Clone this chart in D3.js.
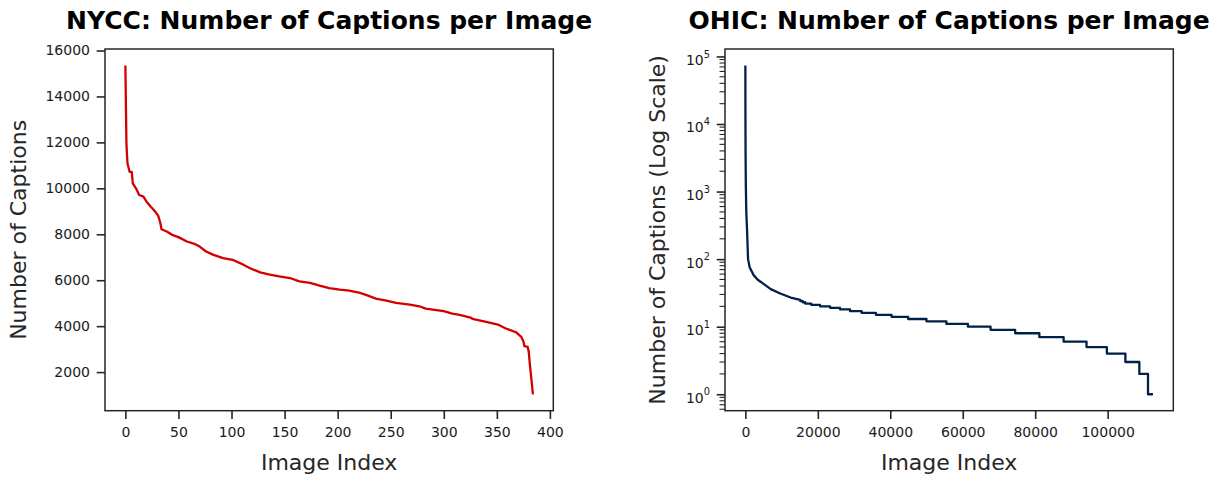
<!DOCTYPE html>
<html>
<head>
<meta charset="utf-8">
<script src="https://cdn.jsdelivr.net/npm/d3@7"></script>
<style>
  body { margin: 0; background: #fff; }
  svg text { font-family: "DejaVu Sans", sans-serif; fill: #262626; }
</style>
</head>
<body>
<div id="chart"></div>
<script>
// NYCC: captions per image, sorted descending (image index, caption count)
const nyccIndex = [0, 1, 2, 4, 6, 7, 10, 13, 17, 20, 24, 28, 31, 33, 34, 39, 44, 50, 58, 65,
  70, 76, 83, 92, 101, 108, 117, 127, 136, 145, 155, 164, 174, 183, 192, 202, 211, 221, 228, 236,
  246, 255, 268, 277, 283, 300, 308, 315, 326, 327, 340, 351, 358, 368, 373, 375, 376, 379, 380, 381, 384];
const nyccCount = [15350, 11900, 11080, 10720, 10720, 10220, 10000, 9710, 9640, 9420, 9200, 8990, 8800, 8480, 8220, 8120, 7975, 7875, 7685, 7585,
  7465, 7250, 7105, 6965, 6890, 6745, 6530, 6340, 6240, 6165, 6095, 5950, 5880, 5760, 5660, 5590, 5545, 5445, 5340, 5200,
  5110, 5010, 4940, 4865, 4765, 4650, 4545, 4490, 4360, 4315, 4185, 4070, 3910, 3735, 3535, 3345, 3130, 3100, 2910, 2400, 1035];

// OHIC: smooth head of the curve (image index, caption count)
const ohicHeadIndex = [0, 15, 50, 120, 250, 470, 740, 1200, 2280, 3500, 5030, 7000, 9630, 12500, 15130];
const ohicHeadCount = [73600, 15000, 4000, 1300, 500, 263, 100, 75, 58, 49, 43, 36, 31, 27, 25];
// OHIC: integer-count tail, each run starts at an index and holds one count
const ohicRunStart = [15130, 15800, 16500, 18200, 20630, 23380, 26130, 28890, 32100, 36040, 40350, 44930,
  49990, 55490, 61430, 67680, 74470, 81150, 87850, 94170, 99780, 104900, 108750, 111140];
const ohicRunCount = [24, 23, 22, 21, 20, 19, 18, 17, 16, 15, 14, 13, 12, 11, 10, 9, 8, 7, 6, 5, 4, 3, 2, 1];
const ohicLastIndex = 112500;

const nyccXTicks = [0, 50, 100, 150, 200, 250, 300, 350, 400];
const nyccYTicks = [2000, 4000, 6000, 8000, 10000, 12000, 14000, 16000];
const ohicXTicks = [0, 20000, 40000, 60000, 80000, 100000];
const ohicYTicks = [1, 10, 100, 1000, 10000, 100000];

const titles = ['NYCC: Number of Captions per Image', 'OHIC: Number of Captions per Image'];
const yLabels = ['Number of Captions', 'Number of Captions (Log Scale)'];
const xLabel = 'Image Index';

const INK = '#262626';
const TOP = 49, BOTTOM = 410.7;

const svg = d3.select('#chart').append('svg')
  .attr('width', 1220)
  .attr('height', 483);

// matplotlib-style 5% margins
function padded([lo, hi], f = 0.05) {
  const d = (hi - lo) * f;
  return [lo - d, hi + d];
}

function styleAxis(g) {
  g.select('.domain').remove();
  g.attr('font-family', 'DejaVu Sans').attr('font-size', 14);
  g.selectAll('.tick line').attr('stroke', INK).attr('stroke-width', 1.6);
  g.selectAll('.tick text').style('fill', '#1a1a1a');
}

function drawPanel({ x, y, left, right, points, color, xTicks, yAxis, title, yLabel, yLabelX }) {
  const g = svg.append('g');

  g.append('g')
    .attr('transform', `translate(0,${BOTTOM})`)
    .call(d3.axisBottom(x).tickValues(xTicks).tickSize(8.3).tickPadding(8.4).tickFormat(d3.format('d')))
    .call(styleAxis);

  const yg = g.append('g')
    .attr('transform', `translate(${left},0)`)
    .call(yAxis)
    .call(styleAxis);

  const line = d3.line()
    .x(d => x(d[0]))
    .y(d => y(d[1]));

  g.append('path')
    .datum(points)
    .attr('fill', 'none')
    .attr('stroke', color)
    .attr('stroke-width', 2.3)
    .attr('stroke-linejoin', 'round')
    .attr('d', line);

  g.append('rect')
    .attr('x', left)
    .attr('y', TOP)
    .attr('width', right - left)
    .attr('height', BOTTOM - TOP)
    .attr('fill', 'none')
    .attr('stroke', INK)
    .attr('stroke-width', 1.5);

  const cx = (left + right) / 2;
  g.append('text')
    .attr('x', cx)
    .attr('y', 29)
    .attr('text-anchor', 'middle')
    .attr('font-size', 25)
    .attr('font-weight', 'bold')
    .style('fill', '#000')
    .text(title);

  g.append('text')
    .attr('x', cx)
    .attr('y', 470)
    .attr('text-anchor', 'middle')
    .attr('font-size', 22)
    .text(xLabel);

  g.append('text')
    .attr('transform', `translate(${yLabelX},${(TOP + BOTTOM) / 2}) rotate(-90)`)
    .attr('text-anchor', 'middle')
    .attr('font-size', 22)
    .text(yLabel);

  return yg;
}

// NYCC panel
const nyccPoints = nyccIndex.map((d, i) => [d, nyccCount[i]]);
const nyccX = d3.scaleLinear().domain(padded(d3.extent(nyccIndex))).range([105, 553.3]);
const nyccY = d3.scaleLinear().domain(padded(d3.extent(nyccCount))).range([BOTTOM, TOP]);

drawPanel({
  x: nyccX, y: nyccY, left: 105, right: 553.3,
  points: nyccPoints, color: '#d40000', xTicks: nyccXTicks,
  yAxis: d3.axisLeft(nyccY).tickValues(nyccYTicks).tickSize(8.3).tickPadding(6.7).tickFormat(d3.format('d')),
  title: titles[0], yLabel: yLabels[0], yLabelX: 25.5
});

// OHIC panel
const ohicPoints = ohicHeadIndex.map((d, i) => [d, ohicHeadCount[i]]);
ohicRunStart.forEach((s, i) => {
  const end = i + 1 < ohicRunStart.length ? ohicRunStart[i + 1] : ohicLastIndex;
  ohicPoints.push([s, ohicRunCount[i]], [end, ohicRunCount[i]]);
});

const ohicX = d3.scaleLinear().domain(padded(d3.extent(ohicPoints, d => d[0]))).range([725, 1173.3]);
const logExtent = padded(d3.extent(ohicPoints, d => Math.log10(d[1])));
const ohicY = d3.scaleLog().domain(logExtent.map(v => Math.pow(10, v))).range([BOTTOM, TOP]);

const ohicYAxis = drawPanel({
  x: ohicX, y: ohicY, left: 725, right: 1173.3,
  points: ohicPoints, color: '#002147', xTicks: ohicXTicks,
  yAxis: d3.axisLeft(ohicY).tickValues(ohicYTicks).tickSize(8.3).tickPadding(6.7).tickFormat(() => ''),
  title: titles[1], yLabel: yLabels[1], yLabelX: 665
});

// power-of-ten labels with superscripts
ohicYAxis.selectAll('.tick text')
  .attr('dy', '0.57em')
  .each(function(d) {
    const t = d3.select(this);
    t.append('tspan').text('10');
    t.append('tspan')
      .attr('font-size', 9.8)
      .attr('dy', '-0.75em')
      .text(Math.round(Math.log10(d)));
  });

// minor log ticks
const minor = ohicY.ticks().filter(d => Math.abs(Math.log10(d) - Math.round(Math.log10(d))) > 1e-6);
ohicYAxis.append('g')
  .selectAll('line')
  .data(minor)
  .join('line')
  .attr('x1', -5.5)
  .attr('x2', 0)
  .attr('y1', d => ohicY(d))
  .attr('y2', d => ohicY(d))
  .attr('stroke', INK)
  .attr('stroke-width', 1.1);
</script>
</body>
</html>
